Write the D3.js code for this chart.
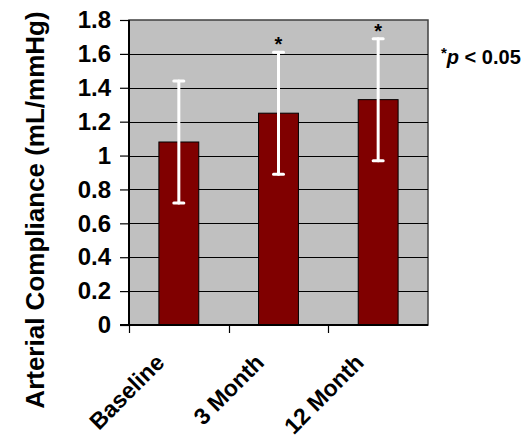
<!DOCTYPE html>
<html>
<head>
<meta charset="utf-8">
<script src="https://cdn.jsdelivr.net/npm/d3@7"></script>
<style>
html,body{margin:0;padding:0;background:#fff;}
svg{display:block;font-family:"Liberation Sans",Arial,sans-serif;}
</style>
</head>
<body>
<script>
const categories = ["Baseline", "3 Month", "12 Month"];
const means = [1.08, 1.25, 1.33];
const errors = [0.36, 0.36, 0.36];
const significant = [false, true, true];
const yTicks = [0, 0.2, 0.4, 0.6, 0.8, 1, 1.2, 1.4, 1.6, 1.8];
const yTitle = "Arterial Compliance (mL/mmHg)";

const W = 527, H = 441;
const m = {left: 129, right: 428, top: 20, bottom: 325};

const svg = d3.select("body").append("svg").attr("width", W).attr("height", H);

const y = d3.scaleLinear().domain([0, 1.8]).range([m.bottom, m.top]);
const x = d3.scaleBand().domain(categories).range([m.left, m.right]).paddingInner(0.6).paddingOuter(0.3);
const xCat = d3.scaleBand().domain(categories).range([m.left, m.right]).padding(0);

// plot background
svg.append("rect").attr("x", m.left).attr("y", m.top)
  .attr("width", m.right - m.left).attr("height", m.bottom - m.top)
  .attr("fill", "#c0c0c0").attr("stroke", "#404040").attr("stroke-width", 1.5);

// gridlines
svg.append("g").selectAll("line").data(yTicks.filter(d => d > 0 && d < 1.8)).join("line")
  .attr("x1", m.left).attr("x2", m.right)
  .attr("y1", d => Math.round(y(d)) + 0.5).attr("y2", d => Math.round(y(d)) + 0.5)
  .attr("stroke", "#000").attr("stroke-width", 1.2);

// bars
svg.append("g").selectAll("rect").data(categories).join("rect")
  .attr("x", d => x(d)).attr("width", x.bandwidth())
  .attr("y", (d, i) => y(means[i])).attr("height", (d, i) => y(0) - y(means[i]))
  .attr("fill", "#800000").attr("stroke", "#000").attr("stroke-width", 1);

// error bars
const eb = svg.append("g").attr("stroke", "#fff").attr("stroke-width", 3).attr("stroke-linecap", "round");
categories.forEach((c, i) => {
  const cx = x(c) + x.bandwidth() / 2;
  const top = y(means[i] + errors[i]), bot = y(means[i] - errors[i]);
  eb.append("line").attr("x1", cx).attr("x2", cx).attr("y1", top).attr("y2", bot);
  eb.append("line").attr("x1", cx - 5).attr("x2", cx + 5).attr("y1", top).attr("y2", top);
  eb.append("line").attr("x1", cx - 5).attr("x2", cx + 5).attr("y1", bot).attr("y2", bot);
  if (significant[i]) {
    svg.append("text").attr("x", cx).attr("y", top - 1)
      .attr("text-anchor", "middle").attr("font-weight", "bold").attr("font-size", 20)
      .attr("fill", "#000").text("*");
  }
});

// y axis
const yAxis = svg.append("g").attr("transform", `translate(${m.left},0)`)
  .call(d3.axisLeft(y).tickValues(yTicks).tickSize(9).tickPadding(9).tickFormat(d => d3.format("")(+d.toFixed(1))));
yAxis.select(".domain").attr("stroke", "#000").attr("stroke-width", 2).attr("d", `M0,${m.top}V${m.bottom}`);
yAxis.selectAll(".tick line").attr("stroke", "#000").attr("stroke-width", 1.2);
yAxis.selectAll("text").attr("font-size", 24).attr("font-weight", "bold").attr("fill", "#000")
  .attr("font-family", "Liberation Sans, Arial, sans-serif");

// x axis
const xAxis = svg.append("g").attr("transform", `translate(0,${m.bottom})`);
xAxis.append("line").attr("x1", m.left - 9).attr("x2", m.right).attr("y1", 0).attr("y2", 0)
  .attr("stroke", "#000").attr("stroke-width", 2);
xAxis.selectAll("line.tk").data(categories).join("line").attr("class", "tk")
  .attr("x1", d => Math.round(xCat(d)) + 0.5).attr("x2", d => Math.round(xCat(d)) + 0.5)
  .attr("y1", 0).attr("y2", 8).attr("stroke", "#000").attr("stroke-width", 1.2);
xAxis.selectAll("text").data(categories).join("text")
  .attr("transform", d => `translate(${xCat(d) + xCat.bandwidth() / 2 - 13},${39}) rotate(-45)`)
  .attr("text-anchor", "end").attr("font-size", 23).attr("font-weight", "bold").attr("fill", "#000")
  .text(d => d);

// y title
svg.append("text").attr("transform", `translate(44,${(13 + 407) / 2}) rotate(-90)`)
  .attr("text-anchor", "middle").attr("font-size", 26).attr("font-weight", "bold").attr("fill", "#000")
  .text(yTitle);

// significance note
const note = svg.append("text").attr("x", 441).attr("y", 64).attr("font-weight", "bold").attr("font-size", 20).attr("fill", "#000");
note.append("tspan").attr("font-size", 15).attr("dy", -6).text("*");
note.append("tspan").attr("font-style", "italic").attr("dy", 6).text("p");
note.append("tspan").text(" < 0.05");
</script>
</body>
</html>
